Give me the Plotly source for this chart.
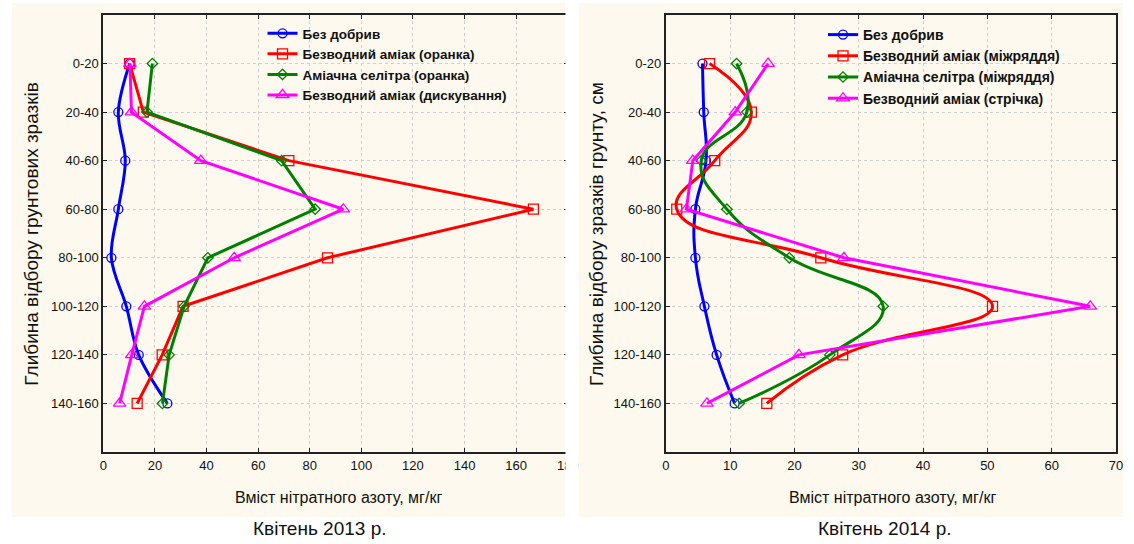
import plotly.graph_objects as go

depths = ["0-20", "20-40", "40-60", "60-80", "80-100", "100-120", "120-140", "140-160"]

# Квітень 2013 р.
l_names = ["Без добрив", "Безводний аміак (оранка)", "Аміачна селітра (оранка)", "Безводний аміак (дискування)"]
l_bez = [10.2, 5.8, 8.5, 5.8, 3.1, 8.9, 13.7, 24.8]
l_amiak_oranka = [10.2, 15.5, 71.9, 166.7, 86.9, 30.9, 22.8, 13.1]
l_selitra_oranka = [19.0, 16.9, 69.1, 82.1, 40.5, 31.3, 25.5, 22.9]
l_amiak_disk = [10.3, 10.9, 37.8, 93.0, 50.7, 15.9, 11.0, 6.3]

# Квітень 2014 р.
r_names = ["Без добрив", "Безводний аміак (міжряддя)", "Аміачна селітра (міжряддя)", "Безводний аміак (стрічка)"]
r_bez = [5.7, 5.9, 6.25, 4.6, 4.6, 6.0, 7.9, 10.7]
r_amiak_mizh = [6.8, 13.3, 7.6, 1.7, 24.1, 50.8, 27.5, 15.7]
r_selitra_mizh = [11.0, 12.6, 5.5, 9.5, 19.2, 33.8, 25.5, 11.4]
r_amiak_strichka = [15.9, 10.8, 4.2, 3.2, 27.7, 66.0, 20.7, 6.4]

left_ticks = list(range(0, 181, 20))
right_ticks = list(range(0, 71, 10))

colors = ["#0000FF", "#FF0000", "#008000", "#FF00FF"]
symbols = ["circle-open", "square-open", "diamond-open", "triangle-up-open"]
msizes = [9, 10, 8, 11]

W, H = 1134, 544
px = lambda v: v / W
py = lambda v: 1 - v / H

fig = go.Figure()

left_series = [l_bez, l_amiak_oranka, l_selitra_oranka, l_amiak_disk]
left_shapes = ["spline", "linear", "linear", "linear"]
for i, vals in enumerate(left_series):
    fig.add_trace(go.Scatter(
        x=vals, y=depths, mode="lines+markers", name=l_names[i],
        line=dict(color=colors[i], width=3, shape=left_shapes[i], smoothing=1.0),
        marker=dict(symbol=symbols[i], size=msizes[i], color=colors[i], line=dict(width=1.3)),
        xaxis="x", yaxis="y", legend="legend",
    ))

right_series = [r_bez, r_amiak_mizh, r_selitra_mizh, r_amiak_strichka]
right_shapes = ["spline", "spline", "spline", "linear"]
for i, vals in enumerate(right_series):
    fig.add_trace(go.Scatter(
        x=vals, y=depths, mode="lines+markers", name=r_names[i],
        line=dict(color=colors[i], width=3, shape=right_shapes[i], smoothing=1.3),
        marker=dict(symbol=symbols[i], size=msizes[i], color=colors[i], line=dict(width=1.3)),
        xaxis="x2", yaxis="y2", legend="legend2",
    ))

tickfont = dict(family="Liberation Sans, Arial, sans-serif", size=13, color="#111111")
grid = dict(showgrid=True, gridcolor="#CFCFCF", griddash="dot", gridwidth=1)
axline = dict(showline=True, linecolor="#222222", linewidth=2, mirror="ticks",
              ticks="inside", ticklen=4, tickcolor="#222222", zeroline=False)

ydom = [py(452), py(15)]
fig.update_layout(
    width=W, height=H,
    margin=dict(l=0, r=0, t=0, b=0),
    paper_bgcolor="white", plot_bgcolor="white",
    font=dict(family="Liberation Sans, Arial, sans-serif", color="#111111"),
    xaxis=dict(domain=[px(100.7), px(571.3)], range=[0, 180], tickvals=left_ticks,
               anchor="y", tickfont=tickfont, **grid, **axline),
    yaxis=dict(domain=ydom, type="category", categoryarray=depths, range=[8, -1],
               anchor="x", tickfont=tickfont, **grid, **axline),
    xaxis2=dict(domain=[px(670.7), px(1126.9)], range=[0, 70], tickvals=right_ticks,
                anchor="y2", tickfont=tickfont, **grid, **axline),
    yaxis2=dict(domain=ydom, type="category", categoryarray=depths, range=[8, -1],
                anchor="x2", tickfont=tickfont, **grid, **axline),
    legend=dict(x=px(262), y=py(18), xanchor="left", yanchor="top",
                bgcolor="rgba(0,0,0,0)", borderwidth=0, tracegroupgap=0,
                font=dict(family="Liberation Sans, Arial, sans-serif", size=13.5, weight="bold", color="#111111")),
    legend2=dict(x=px(830), y=py(19), xanchor="left", yanchor="top",
                 bgcolor="rgba(0,0,0,0)", borderwidth=0, tracegroupgap=0,
                 font=dict(family="Liberation Sans, Arial, sans-serif", size=14, weight="bold", color="#111111")),
    showlegend=True,
)

cream = "#FDF9EE"
fig.add_shape(type="rect", xref="paper", yref="paper", x0=px(8), x1=px(569), y0=py(517), y1=py(3),
              fillcolor=cream, line=dict(width=0), layer="below")
fig.add_shape(type="rect", xref="paper", yref="paper", x0=px(582), x1=1, y0=py(517), y1=py(3),
              fillcolor=cream, line=dict(width=0), layer="below")
# white gap between panels hides clipped right edge of the left panel
fig.add_shape(type="rect", xref="paper", yref="paper", x0=px(569), x1=px(582), y0=0, y1=1,
              fillcolor="white", line=dict(width=0), layer="above")

ann_font = dict(family="Liberation Sans, Arial, sans-serif", color="#111111")
def ann(text, x, y, size, angle=0):
    fig.add_annotation(text=text, x=px(x), y=py(y), xref="paper", yref="paper",
                       xanchor="center", yanchor="middle", textangle=angle,
                       showarrow=False, font=dict(size=size, **ann_font))

ann("Глибина відбору грунтових зразків", 27, 234, 19, -90)
ann("Глибина відбору зразків грунту, см", 600, 234, 19, -90)
ann("Вміст нітратного азоту, мг/кг", 339, 497, 16)
ann("Вміст нітратного азоту, мг/кг", 900, 497, 16)
ann("Квітень 2013 р.", 320, 528, 19)
ann("Квітень 2014 р.", 893, 528, 19)

fig.write_html("out.html", config={"displayModeBar": False},
               post_script="document.body.style.margin='0px';document.body.style.overflow='hidden';")
